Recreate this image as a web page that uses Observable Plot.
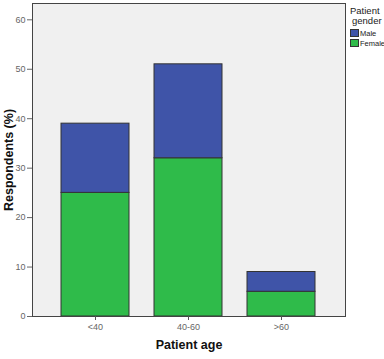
<!DOCTYPE html>
<html><head><meta charset="utf-8">
<script src="https://cdn.jsdelivr.net/npm/d3@7"></script>
<script src="https://cdn.jsdelivr.net/npm/@observablehq/plot@0.6"></script>
<style>
body{margin:0;background:#fff;font-family:"Liberation Sans",Arial,sans-serif;}
#wrap{position:relative;width:384px;height:359px;overflow:hidden;}
#legend{position:absolute;left:350px;top:6px;width:40px;font-size:9px;color:#222;line-height:10px;white-space:nowrap;}
.sw{display:inline-block;width:9px;height:8px;border:1px solid #333;vertical-align:-1px;margin-right:1px;box-sizing:border-box;}
.row{font-size:7.5px;height:10px;color:#222;white-space:nowrap;}
</style></head>
<body><div id="wrap"><div id="legend">
<div style="font-size:9.5px;">Patient</div><div style="font-size:9.5px;margin-left:2px;">gender</div>
<div style="height:3px"></div>
<div class="row"><span class="sw" style="background:#3f54a8"></span>Male</div>
<div class="row"><span class="sw" style="background:#2fbb4a"></span>Female</div>
</div></div>
<script>
const ages = ["<40", "40-60", ">60"];
const genders = ["Female", "Male"];
const female = [25, 32, 5];
const male = [14, 19, 4];
const colors = ["#2fbb4a", "#3f54a8"];
const yTicks = [0, 10, 20, 30, 40, 50, 60];

const data = [];
ages.forEach((a, i) => {
  data.push({age: a, gender: "Female", value: female[i]});
  data.push({age: a, gender: "Male", value: male[i]});
});

const chart = Plot.plot({
  width: 384, height: 359,
  marginLeft: 32, marginRight: 39, marginTop: 3, marginBottom: 43,
  style: {fontFamily: "Liberation Sans, Arial, sans-serif", fontSize: "9px", color: "#555"},
  x: {domain: ages, paddingInner: 0.266, paddingOuter: 0.298, label: null, tickSize: 4, tickPadding: 3},
  y: {domain: [0, 63.3], ticks: yTicks, label: null, tickSize: 5, tickPadding: 2},
  color: {domain: genders, range: colors},
  marks: [
    Plot.frame({fill: "#f0f0f0", stroke: "none"}),
    Plot.barY(data, {x: "age", y: "value", fill: "gender", stroke: "#333", strokeWidth: 1, order: genders, inset: 0}),
    Plot.frame({stroke: "#444", strokeWidth: 1}),
    Plot.axisY({ticks: yTicks, tickSize: 5, tickPadding: 2, label: null, stroke: "#666", fill: "#666"}),
    Plot.axisX({tickSize: 4, tickPadding: 3, label: null, stroke: "#555", fill: "#666"})
  ]
});
const svg = d3.select(chart);
svg.append("text").attr("x", 189).attr("y", 349).attr("text-anchor", "middle")
  .attr("font-weight", "bold").attr("font-size", "12.5px").attr("fill", "#111").text("Patient age");
svg.append("text").attr("transform", "translate(13,160) rotate(-90)").attr("text-anchor", "middle")
  .attr("font-weight", "bold").attr("font-size", "12.5px").attr("fill", "#111").text("Respondents (%)");
document.getElementById("wrap").prepend(chart);
</script></body></html>
